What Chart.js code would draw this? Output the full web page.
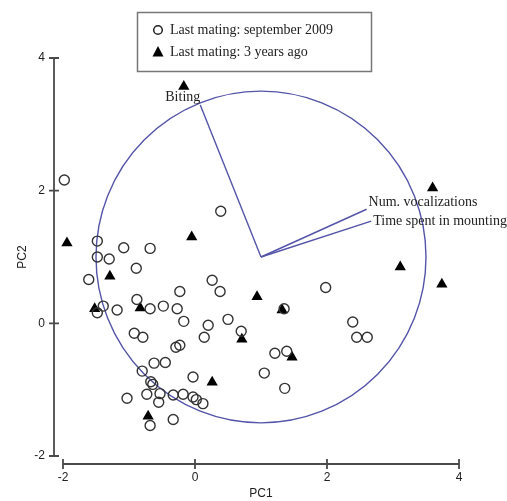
<!DOCTYPE html>
<html>
<head>
<meta charset="utf-8">
<script src="https://cdn.jsdelivr.net/npm/chart.js@4/dist/chart.umd.min.js"></script>
<style>
  html, body { margin: 0; padding: 0; background: #fff; }
</style>
</head>
<body>
<canvas id="canvas" width="507" height="501"></canvas>
<script>
// PCA scores, group 1: last mating september 2009
var septX = [-1.98, 0.39, -1.48, -1.08, -0.68, -1.48, -1.30, -0.89, -1.61, 0.26, 0.38, -0.23, -0.88, -1.39,
  -1.48, -1.18, -0.68, -0.48, -0.27, -0.17, 0.20, 0.50, 0.70, -0.92, -0.79, 0.14, -0.29, -0.23, -0.62, -0.45,
  -0.80, -0.03, -0.67, -0.64, -1.03, -0.73, -0.53, -0.55, -0.33, -0.18, -0.03, 0.02, 0.12, -0.33, -0.68,
  2.45, 2.61, 1.21, 1.39, 1.05, 1.36, 1.98, 2.39, 1.35];
var septY = [2.16, 1.69, 1.24, 1.14, 1.13, 1.00, 0.97, 0.83, 0.66, 0.65, 0.48, 0.48, 0.36, 0.26,
  0.16, 0.20, 0.22, 0.26, 0.22, 0.03, -0.03, 0.06, -0.12, -0.15, -0.21, -0.21, -0.36, -0.33, -0.60, -0.59,
  -0.72, -0.81, -0.88, -0.92, -1.13, -1.07, -1.06, -1.19, -1.08, -1.07, -1.11, -1.15, -1.21, -1.45, -1.54,
  -0.21, -0.21, -0.45, -0.42, -0.75, -0.98, 0.54, 0.02, 0.22];

// group 2: last mating 3 years ago
var agoX = [-0.17, 3.60, -1.94, -0.05, -1.29, -1.52, -0.83, 0.94, 1.32, 0.71, 1.47, 3.11, 3.74, 0.26, -0.71];
var agoY = [3.57, 2.04, 1.21, 1.30, 0.71, 0.22, 0.23, 0.40, 0.20, -0.24, -0.51, 0.85, 0.59, -0.89, -1.40];

// variable loadings (vectors from the circle centre)
var loadingNames = ['Biting', 'Num. vocalizations', 'Time spent in mounting'];
var loadingX = [0.08, 2.60, 2.67];
var loadingY = [3.29, 1.72, 1.54];
var originX = 1, originY = 1, circleRadius = 2.5;

var groupNames = ['Last mating: september 2009', 'Last mating: 3 years ago'];
var tickValues = [-2, 0, 2, 4];

var blue = '#5454a8';
var serif = '"Liberation Serif", "Times New Roman", serif';
var sans = '"Liberation Sans", Arial, sans-serif';

function pts(xs, ys) {
  return xs.map(function (x, i) { return { x: x, y: ys[i] }; });
}

var datasets = loadingNames.map(function (name, i) {
  return {
    type: 'line',
    label: name,
    data: [{ x: originX, y: originY }, { x: loadingX[i], y: loadingY[i] }],
    borderColor: blue,
    borderWidth: 1.4,
    pointRadius: 0,
    fill: false
  };
});
datasets.push({
  label: groupNames[0],
  data: pts(septX, septY),
  pointStyle: 'circle',
  pointRadius: 5,
  backgroundColor: 'rgba(0,0,0,0)',
  borderColor: '#333',
  borderWidth: 1.4
});
datasets.push({
  label: groupNames[1],
  data: pts(agoX, agoY),
  pointStyle: 'triangle',
  pointRadius: 6.5,
  backgroundColor: '#000',
  borderColor: '#000',
  borderWidth: 0
});

var extras = {
  id: 'extras',
  beforeDatasetsDraw: function (chart) {
    var ctx = chart.ctx, xs = chart.scales.x, ys = chart.scales.y;
    ctx.save();
    // loading circle
    var cx = xs.getPixelForValue(originX), cy = ys.getPixelForValue(originY);
    var rx = xs.getPixelForValue(originX + circleRadius) - cx;
    var ry = cy - ys.getPixelForValue(originY + circleRadius);
    ctx.strokeStyle = blue;
    ctx.lineWidth = 1.4;
    ctx.beginPath();
    ctx.ellipse(cx, cy, rx, ry, 0, 0, Math.PI * 2);
    ctx.stroke();

    // detached axes
    ctx.strokeStyle = '#4a4a4a';
    ctx.lineWidth = 1.8;
    var ax = xs.left - 9;
    var ay = ys.bottom + 8;
    ctx.beginPath();
    ctx.moveTo(ax, ys.getPixelForValue(tickValues[tickValues.length - 1]));
    ctx.lineTo(ax, ys.getPixelForValue(tickValues[0]));
    tickValues.forEach(function (v) {
      var p = ys.getPixelForValue(v);
      ctx.moveTo(ax - 5, p); ctx.lineTo(ax + 5, p);
    });
    ctx.moveTo(xs.getPixelForValue(tickValues[0]), ay);
    ctx.lineTo(xs.getPixelForValue(tickValues[tickValues.length - 1]), ay);
    tickValues.forEach(function (v) {
      var p = xs.getPixelForValue(v);
      ctx.moveTo(p, ay - 5); ctx.lineTo(p, ay + 5);
    });
    ctx.stroke();
    ctx.restore();
  },
  afterDatasetsDraw: function (chart) {
    var ctx = chart.ctx, xs = chart.scales.x, ys = chart.scales.y;
    ctx.save();
    ctx.font = '14px ' + serif;
    ctx.fillStyle = '#222';
    ctx.textBaseline = 'middle';
    // vector labels
    var ex, ey;
    ex = xs.getPixelForValue(loadingX[0]); ey = ys.getPixelForValue(loadingY[0]);
    ctx.textAlign = 'right';
    ctx.fillText(loadingNames[0], ex, ey - 8);
    ctx.textAlign = 'left';
    ex = xs.getPixelForValue(loadingX[1]); ey = ys.getPixelForValue(loadingY[1]);
    ctx.fillText(loadingNames[1], ex + 2, ey - 7);
    ex = xs.getPixelForValue(loadingX[2]); ey = ys.getPixelForValue(loadingY[2]);
    ctx.fillText(loadingNames[2], ex + 2, ey);

    // legend box
    ctx.strokeStyle = '#777';
    ctx.lineWidth = 1.5;
    ctx.strokeRect(137.5, 12.5, 234, 59);
    ctx.strokeStyle = '#222';
    ctx.lineWidth = 1.5;
    ctx.beginPath();
    ctx.arc(158, 30, 4.3, 0, Math.PI * 2);
    ctx.stroke();
    ctx.fillStyle = '#000';
    ctx.beginPath();
    ctx.moveTo(158, 46); ctx.lineTo(152.5, 56.5); ctx.lineTo(163.5, 56.5);
    ctx.closePath();
    ctx.fill();
    ctx.fillStyle = '#222';
    ctx.fillText(groupNames[0], 170, 30);
    ctx.fillText(groupNames[1], 170, 52);
    ctx.restore();
  }
};

var ctxL = document.getElementById('canvas').getContext('2d');
var chart = new Chart(ctxL, {
  type: 'scatter',
  data: { datasets: datasets },
  options: {
    responsive: false,
    animation: false,
    clip: false,
    layout: { padding: { top: 58, right: 48, left: 0, bottom: 0 } },
    plugins: { legend: { display: false }, tooltip: { enabled: false } },
    scales: {
      x: {
        type: 'linear', min: -2, max: 4,
        afterFit: function (s) { s.height = 45; },
        afterBuildTicks: function (s) { s.ticks = tickValues.map(function (v) { return { value: v }; }); },
        grid: { display: false, drawTicks: false },
        border: { display: false },
        ticks: { padding: 14, color: '#222', font: { family: sans, size: 12 } },
        title: { display: true, text: 'PC1', color: '#222', padding: 0, font: { family: sans, size: 12 } }
      },
      y: {
        type: 'linear', min: -2, max: 4,
        afterFit: function (s) { s.width = 63; },
        afterBuildTicks: function (s) { s.ticks = tickValues.map(function (v) { return { value: v }; }); },
        grid: { display: false, drawTicks: false },
        border: { display: false },
        ticks: { padding: 18, color: '#222', font: { family: sans, size: 12 } },
        title: { display: true, text: 'PC2', color: '#222', padding: { top: 15 }, font: { family: sans, size: 12 } }
      }
    }
  },
  plugins: [extras]
});
</script>
</body>
</html>
